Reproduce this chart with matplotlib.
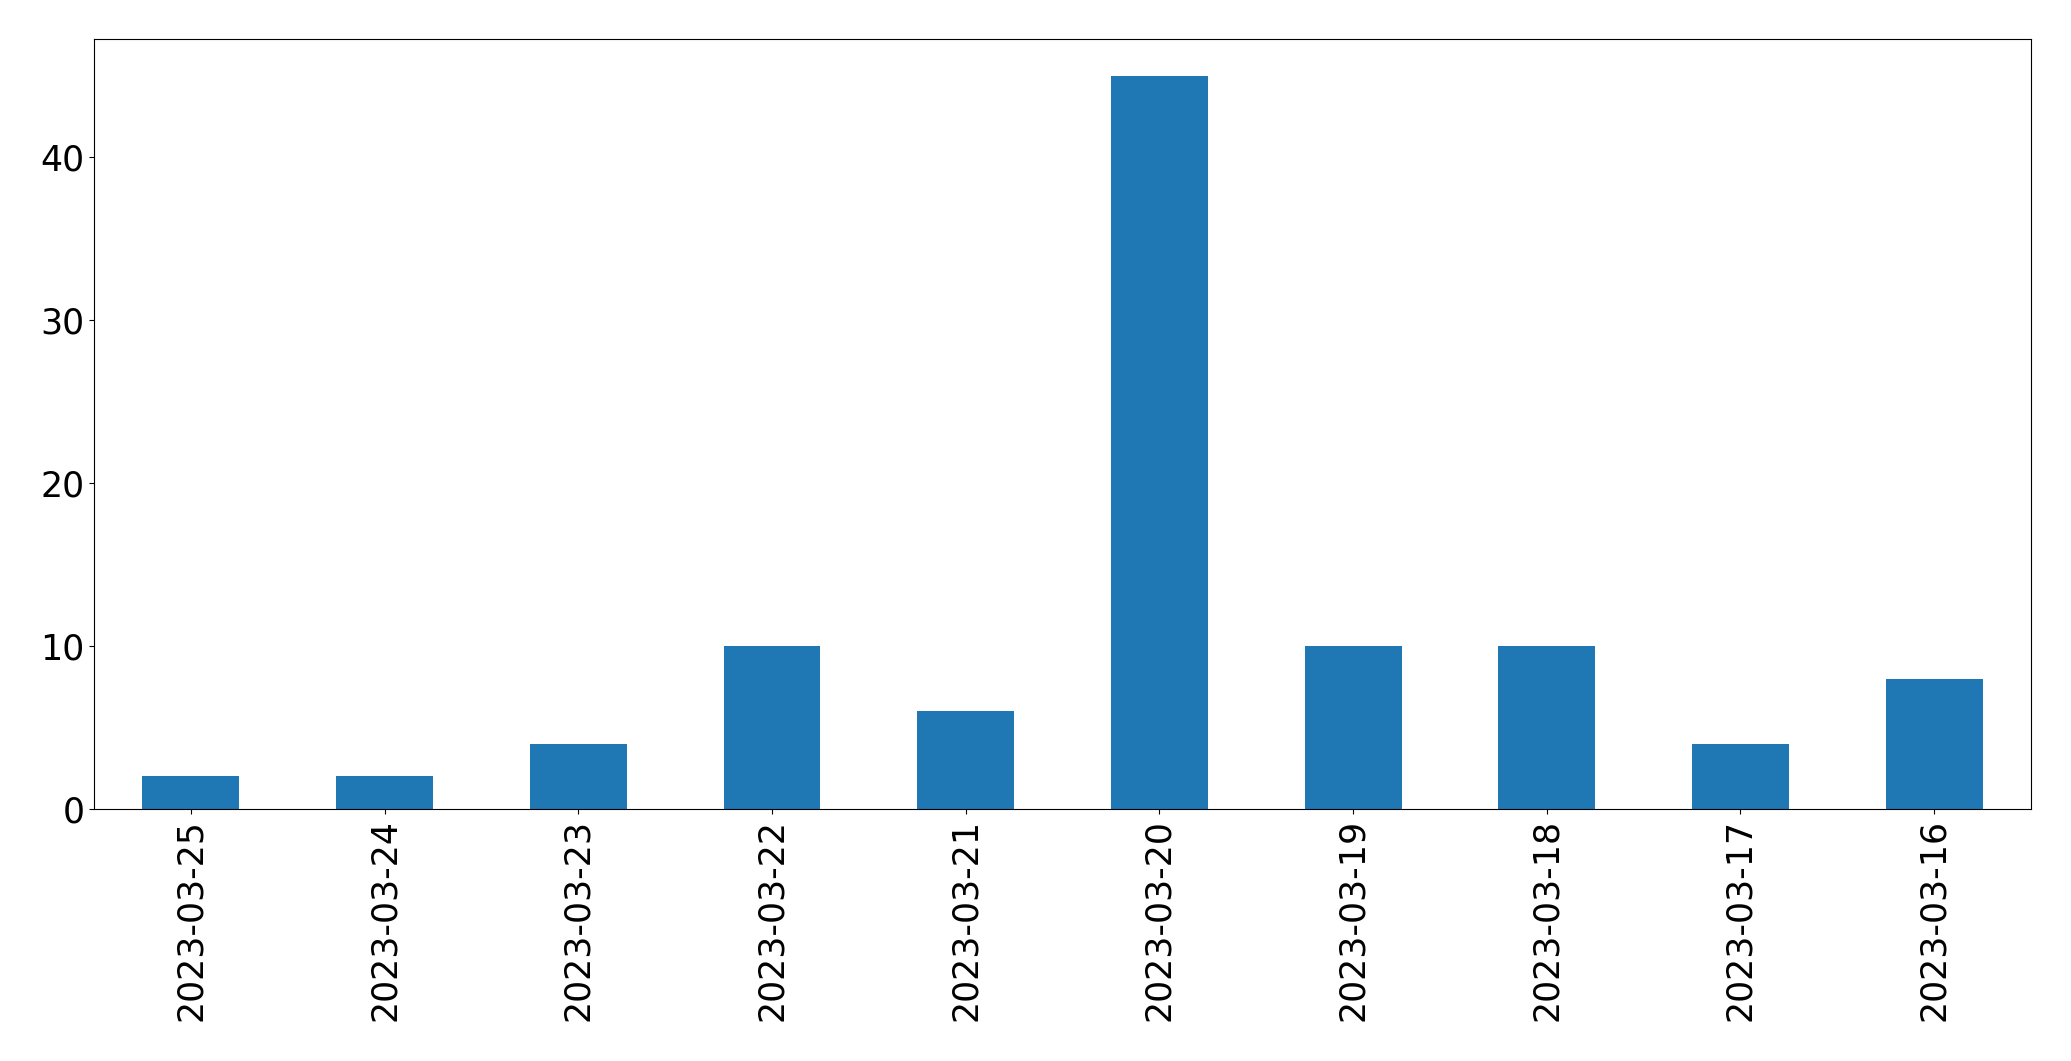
import matplotlib
matplotlib.use("Agg")
import matplotlib.pyplot as plt
import pandas as pd

dates = ["2023-03-25", "2023-03-24", "2023-03-23", "2023-03-22", "2023-03-21",
         "2023-03-20", "2023-03-19", "2023-03-18", "2023-03-17", "2023-03-16"]
counts = [2, 2, 4, 10, 6, 45, 10, 10, 4, 8]

s = pd.Series(counts, index=dates)

fig = plt.figure(figsize=(20.71, 10.61), dpi=100)
ax = fig.add_axes([0.0454, 0.2375, 0.9353, 0.7258])
s.plot(kind="bar", ax=ax, fontsize=25, color="#1f77b4")
ax.tick_params(axis="x", labelrotation=90)

fig.savefig("out.png", dpi=100)
